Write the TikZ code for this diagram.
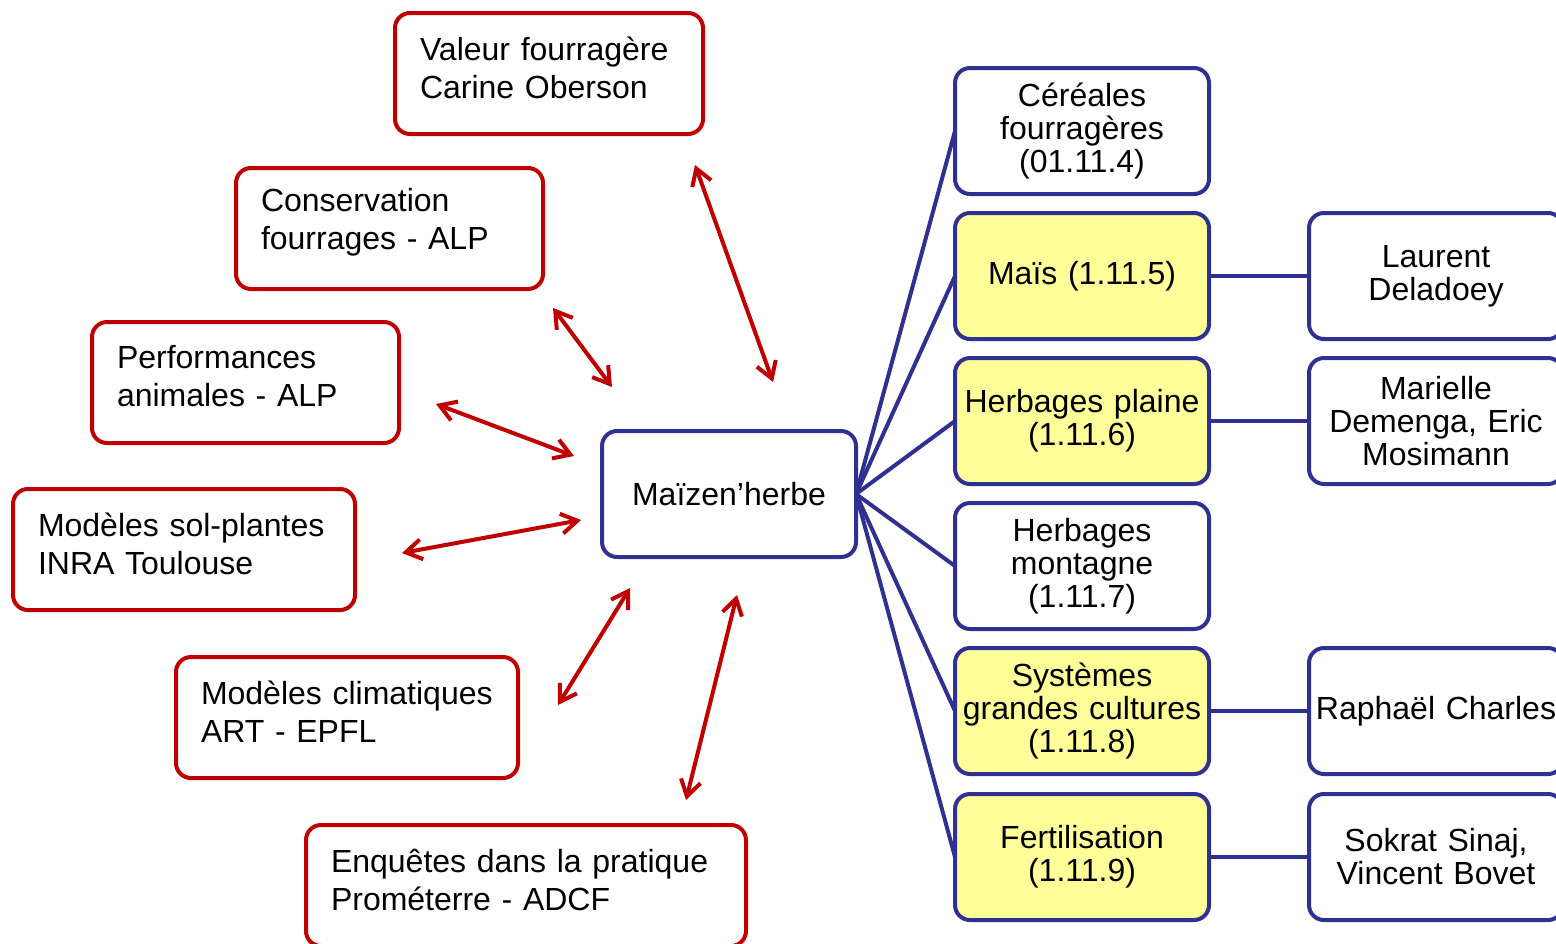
\documentclass[tikz,border=0pt]{standalone}
\usepackage{fontspec}
\setmainfont{Liberation Sans}
\usetikzlibrary{arrows.meta}
\definecolor{myred}{RGB}{192,0,0}
\definecolor{mynavy}{RGB}{46,49,146}
\definecolor{myyellow}{RGB}{255,255,153}
\newcommand\myredpad{\par\vspace{6pt}}
\begin{document}
\begin{tikzpicture}[x=0.5pt,y=-0.5pt,
  redbox/.style={draw=myred, line width=2pt, rounded corners=7.5pt, fill=white,
    anchor=north west, outer sep=0pt, minimum height=60.5pt, text width=#1, align=left,
    inner xsep=12.5pt, font=\fontsize{16}{19}\selectfont,
    execute at end node=\myredpad},
  bluebox/.style={draw=mynavy, line width=2pt, rounded corners=7.5pt, fill=white,
    anchor=north west, outer sep=0pt, minimum height=63pt, text width=121pt, inner xsep=3pt,
    align=center, font=\fontsize{16}{16.5}\selectfont},
  hl/.style={fill=myyellow},
  blueline/.style={draw=mynavy, line width=2pt},
  redarrow/.style={draw=myred, line width=2pt,
    {Straight Barb[length=8pt,width=10pt]}-{Straight Barb[length=8pt,width=10pt]}}
]
\useasboundingbox (0,0) rectangle (1556,943);
\clip (0,0) rectangle (1556,943);
\fill[white] (0,0) rectangle (1556,943);

% red boxes
\node[redbox=129pt] (val) at (395,13) {Valeur fourragère\\Carine Oberson};
\node[redbox=128.5pt] (con) at (236,168) {Conservation\\fourrages - ALP};
\node[redbox=128.5pt] (perf) at (92,322) {Performances\\animales - ALP};
\node[redbox=146pt] (sol) at (13,489) {Modèles sol-plantes\\INRA Toulouse};
\node[redbox=146pt] (clim) at (176,657) {Modèles climatiques\\ART - EPFL};
\node[redbox=195pt] (enq) at (306,825) {Enquêtes dans la pratique\\Prométerre - ADCF};

% center
\node[bluebox] (maiz) at (602,431) {Maïzen’herbe};

% column 1
\node[bluebox] (cer) at (955,68) {Céréales\\fourragères\\(01.11.4)};
\node[bluebox,hl] (mais) at (955,213) {Maïs (1.11.5)};
\node[bluebox,hl] (hp) at (955,358) {Herbages plaine\\(1.11.6)};
\node[bluebox] (hm) at (955,503) {Herbages\\montagne\\(1.11.7)};
\node[bluebox,hl] (sys) at (955,648) {Systèmes\\grandes cultures\\(1.11.8)};
\node[bluebox,hl] (fert) at (955,794) {Fertilisation\\(1.11.9)};

% column 2
\node[bluebox] (lau) at (1309,213) {Laurent\\Deladoey};
\node[bluebox] (mar) at (1309,358) {Marielle\\Demenga, Eric\\Mosimann};
\node[bluebox] (rap) at (1309,648) {Raphaël Charles};
\node[bluebox] (sok) at (1309,794) {Sokrat Sinaj,\\Vincent Bovet};

% connectors
\foreach \t in {cer,mais,hp,hm,sys,fert}
  \draw[blueline] (maiz.east) -- (\t.west);
\draw[blueline] (mais.east) -- (lau.west);
\draw[blueline] (hp.east) -- (mar.west);
\draw[blueline] (sys.east) -- (rap.west);
\draw[blueline] (fert.east) -- (sok.west);

% red arrows
\coordinate (a1s) at (695,165); \coordinate (a1e) at (773,382);
\coordinate (a2s) at (553,308); \coordinate (a2e) at (612,387);
\coordinate (a3s) at (436,404); \coordinate (a3e) at (574,456);
\coordinate (a4s) at (402,553); \coordinate (a4e) at (581,520);
\coordinate (a5s) at (558,705); \coordinate (a5e) at (630,588);
\coordinate (a6s) at (686,800); \coordinate (a6e) at (737,595);
\foreach \i in {1,...,6}
  \draw[redarrow] (a\i s) -- (a\i e);
\end{tikzpicture}
\end{document}
